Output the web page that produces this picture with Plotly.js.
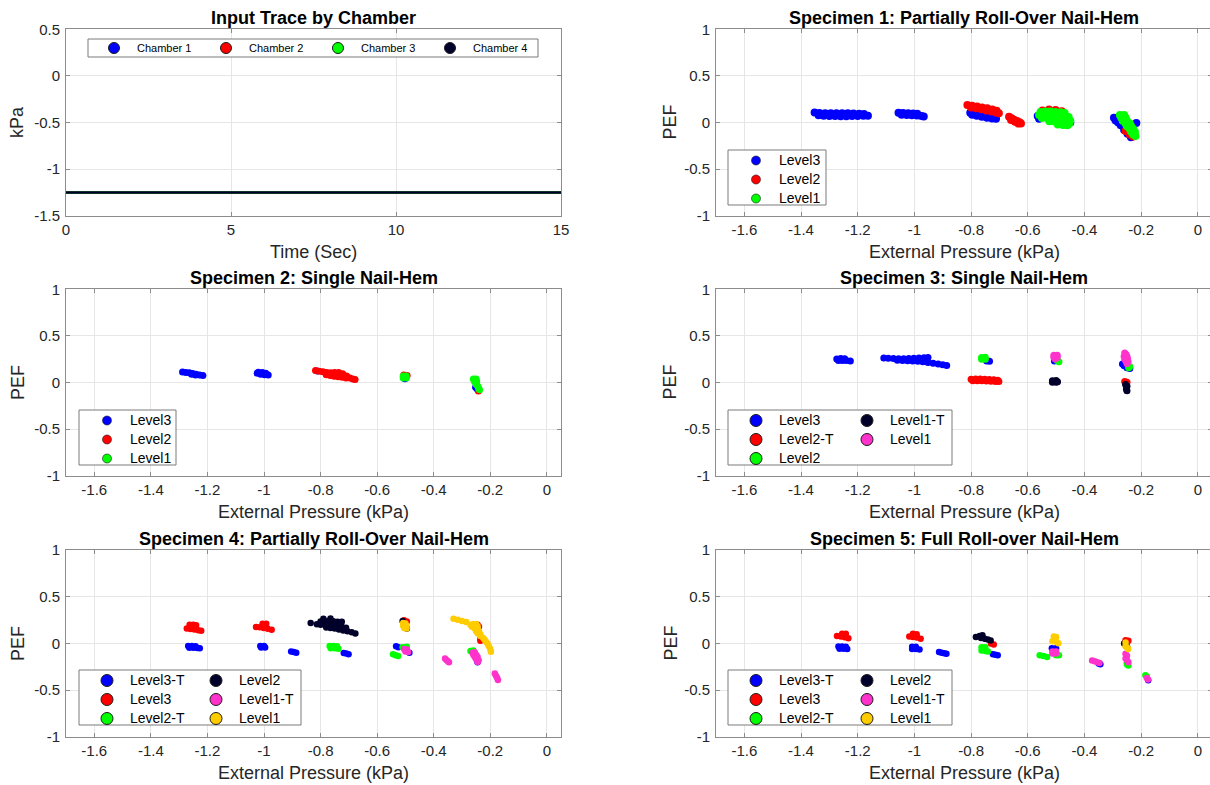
<!DOCTYPE html>
<html>
<head>
<meta charset="utf-8">
<script src="https://cdn.plot.ly/plotly-3.0.1.min.js"></script>
<style>
html,body{margin:0;padding:0;overflow:hidden;background:#fff}
#chart{width:1214px;height:785px}
</style>
</head>
<body>
<div id="chart"></div>
<script>
// ---------------- DATA ----------------
const PANEL_TITLES = ['Input Trace by Chamber','Specimen 1: Partially Roll-Over Nail-Hem','Specimen 2: Single Nail-Hem','Specimen 3: Single Nail-Hem','Specimen 4: Partially Roll-Over Nail-Hem','Specimen 5: Full Roll-over Nail-Hem'];
const X_LABEL_TIME = 'Time (Sec)';
const X_LABEL_P = 'External Pressure (kPa)';
const Y_LABEL_KPA = 'kPa';
const Y_LABEL_PEF = 'PEF';

const TIME_TICKS = [0, 5, 10, 15];
const TIME_TICKTEXT = ['0', '5', '10', '15'];
const KPA_TICKS = [-1.5, -1, -0.5, 0, 0.5];
const KPA_TICKTEXT = ['-1.5', '-1', '-0.5', '0', '0.5'];
const P_TICKS = [-1.6, -1.4, -1.2, -1, -0.8, -0.6, -0.4, -0.2, 0];
const P_TICKTEXT = ['-1.6', '-1.4', '-1.2', '-1', '-0.8', '-0.6', '-0.4', '-0.2', '0'];
const PEF_TICKS = [-1, -0.5, 0, 0.5, 1];
const PEF_TICKTEXT = ['-1', '-0.5', '0', '0.5', '1'];

const CHAMBER_NAMES = ['Chamber 1', 'Chamber 2', 'Chamber 3', 'Chamber 4'];
const TIME_SEC = [0, 15];
const CH1_KPA = [-1.25, -1.25];
const CH2_KPA = [-1.25, -1.25];
const CH3_KPA = [-1.25, -1.25];
const CH4_KPA = [-1.25, -1.25];

const NAMES_3 = ['Level3', 'Level2', 'Level1'];
const NAMES_S3 = ['Level3', 'Level2-T', 'Level2', 'Level1-T', 'Level1'];
const NAMES_6 = ['Level3-T', 'Level3', 'Level2-T', 'Level2', 'Level1-T', 'Level1'];

// Specimen 1 [external pressure, PEF]
const S1_LEVEL3 = [
 [-1.352,0.108],[-1.335,0.102],[-1.315,0.100],[-1.295,0.100],[-1.275,0.100],[-1.255,0.100],[-1.235,0.098],[-1.215,0.097],[-1.195,0.095],[-1.178,0.090],
 [-1.338,0.078],[-1.320,0.072],[-1.300,0.070],[-1.280,0.069],[-1.260,0.068],[-1.240,0.068],[-1.220,0.069],[-1.200,0.070],[-1.180,0.072],[-1.164,0.072],
 [-1.056,0.104],[-1.040,0.102],[-1.022,0.100],[-1.004,0.097],[-0.990,0.094],
 [-1.045,0.082],[-1.027,0.080],[-1.009,0.077],[-0.991,0.074],[-0.975,0.070],[-0.967,0.064],
 [-0.803,0.104],[-0.787,0.099],[-0.769,0.091],[-0.751,0.083],[-0.733,0.075],[-0.717,0.066],
 [-0.796,0.082],[-0.780,0.073],[-0.762,0.062],[-0.744,0.052],[-0.726,0.044],[-0.712,0.040],
 [-0.565,0.070],[-0.560,0.040],[-0.520,0.060],[-0.490,0.030],[-0.460,0.010],[-0.450,0.000],
 [-0.296,0.050],[-0.290,0.022],[-0.281,0.000],[-0.272,-0.030],[-0.260,-0.080],[-0.248,-0.120],[-0.236,-0.158],[-0.217,-0.005]
];
const S1_LEVEL2 = [
 [-0.813,0.188],[-0.797,0.181],[-0.779,0.172],[-0.761,0.162],[-0.743,0.152],[-0.725,0.140],[-0.710,0.126],
 [-0.800,0.162],[-0.782,0.152],[-0.764,0.141],[-0.746,0.130],[-0.728,0.118],[-0.712,0.106],[-0.702,0.100],
 [-0.666,0.062],[-0.657,0.045],[-0.648,0.030],[-0.638,0.015],[-0.629,0.002],[-0.624,-0.012],[-0.645,0.008],[-0.633,-0.010],[-0.659,0.028],
 [-0.548,0.130],[-0.525,0.140],[-0.502,0.135],[-0.480,0.120],
 [-0.270,0.060],[-0.255,-0.090],[-0.240,-0.130],[-0.228,-0.150]
];
const S1_LEVEL1 = [
 [-0.555,0.112],[-0.538,0.117],[-0.520,0.117],[-0.502,0.114],[-0.484,0.110],[-0.470,0.102],
 [-0.560,0.080],[-0.542,0.082],[-0.524,0.082],[-0.506,0.078],[-0.488,0.074],[-0.470,0.066],[-0.456,0.058],
 [-0.550,0.048],[-0.532,0.048],[-0.514,0.044],[-0.496,0.040],[-0.478,0.034],[-0.460,0.028],[-0.450,0.020],
 [-0.524,0.014],[-0.506,0.010],[-0.488,0.004],[-0.470,-0.004],[-0.454,-0.014],
 [-0.494,-0.022],[-0.476,-0.026],[-0.460,-0.030],
 [-0.275,0.080],[-0.260,0.080],[-0.270,0.050],[-0.255,0.050],[-0.265,0.020],[-0.250,0.020],[-0.255,-0.010],[-0.240,-0.010],
 [-0.250,-0.040],[-0.235,-0.040],[-0.240,-0.070],[-0.228,-0.070],[-0.235,-0.100],[-0.222,-0.100],[-0.228,-0.130],[-0.220,-0.145]
];

// Specimen 2
const S2_LEVEL3 = [
 [-1.288,0.113],[-1.276,0.109],[-1.264,0.104],[-1.252,0.097],[-1.240,0.089],[-1.228,0.081],[-1.216,0.075],[-1.256,0.090],[-1.242,0.082],
 [-1.020,0.110],[-1.006,0.108],[-0.994,0.101],[-1.012,0.090],[-0.998,0.084],[-0.985,0.080],[-1.024,0.100],
 [-0.812,0.125],[-0.752,0.100],
 [-0.502,0.040],[-0.246,-0.070],[-0.252,-0.050]
];
const S2_LEVEL2 = [
 [-0.818,0.128],[-0.805,0.121],[-0.792,0.115],[-0.778,0.108],[-0.764,0.104],[-0.750,0.108],[-0.736,0.108],[-0.722,0.094],[-0.708,0.070],[-0.696,0.050],[-0.686,0.038],[-0.678,0.032],
 [-0.780,0.084],[-0.766,0.075],[-0.752,0.068],[-0.738,0.062],[-0.724,0.056],[-0.710,0.048],
 [-0.506,0.082],[-0.494,0.076],[-0.242,-0.090]
];
const S2_LEVEL1 = [
 [-0.508,0.070],[-0.497,0.070],[-0.508,0.050],[-0.497,0.050],
 [-0.260,0.038],[-0.250,0.038],[-0.256,0.012],[-0.248,0.012],[-0.250,-0.018],[-0.244,-0.040],[-0.241,-0.062],[-0.238,-0.078]
];

// Specimen 3
const S3_LEVEL3 = [
 [-1.274,0.252],[-1.260,0.258],[-1.246,0.254],[-1.268,0.236],[-1.254,0.236],[-1.240,0.236],[-1.226,0.232],
 [-1.108,0.262],[-1.092,0.260],[-1.074,0.258],[-1.056,0.256],[-1.038,0.256],[-1.020,0.258],[-1.002,0.260],[-0.984,0.262],[-0.966,0.265],[-0.952,0.268],
 [-1.060,0.238],[-1.042,0.237],[-1.024,0.235],[-1.006,0.232],[-0.988,0.228],[-0.970,0.222],[-0.952,0.214],[-0.934,0.206],[-0.916,0.198],[-0.900,0.190],[-0.886,0.182],
 [-0.745,0.232],[-0.735,0.228],[-0.506,0.232],[-0.266,0.200],[-0.260,0.180],[-0.250,0.158],[-0.240,0.150]
];
const S3_LEVEL2T = [
 [-0.800,0.036],[-0.784,0.038],[-0.768,0.038],[-0.752,0.036],[-0.736,0.034],[-0.720,0.030],[-0.706,0.024],
 [-0.794,0.020],[-0.778,0.020],[-0.762,0.018],[-0.746,0.017],[-0.730,0.014],[-0.714,0.012],[-0.702,0.010],
 [-0.258,0.010],[-0.250,0.004]
];
const S3_LEVEL2 = [
 [-0.763,0.268],[-0.750,0.272],[-0.763,0.250],[-0.750,0.250],
 [-0.490,0.222],[-0.496,0.236],[-0.244,0.158],[-0.240,0.172]
];
const S3_LEVEL1T = [
 [-0.513,0.020],[-0.500,0.022],[-0.513,0.004],[-0.500,0.002],[-0.495,0.008],
 [-0.255,-0.020],[-0.250,-0.040],[-0.252,-0.070],[-0.250,-0.088]
];
const S3_LEVEL1 = [
 [-0.508,0.292],[-0.496,0.292],[-0.508,0.268],[-0.496,0.268],[-0.503,0.252],
 [-0.258,0.318],[-0.253,0.300],[-0.260,0.280],[-0.250,0.280],[-0.258,0.255],[-0.248,0.255],[-0.254,0.232],[-0.246,0.222],[-0.250,0.204]
];

// Specimen 4
const S4_LEVEL3T = [
 [-1.268,-0.028],[-1.255,-0.026],[-1.242,-0.030],[-1.264,-0.045],[-1.250,-0.045],[-1.236,-0.048],[-1.227,-0.052],
 [-1.013,-0.026],[-1.000,-0.026],[-1.010,-0.044],[-0.996,-0.044],
 [-0.904,-0.086],[-0.895,-0.092],[-0.886,-0.099],
 [-0.718,-0.101],[-0.709,-0.108],[-0.701,-0.114],
 [-0.533,-0.030],[-0.525,-0.040],[-0.486,-0.100],
 [-0.260,-0.090],[-0.245,-0.200]
];
const S4_LEVEL3 = [
 [-1.263,0.200],[-1.250,0.200],[-1.240,0.195],
 [-1.273,0.160],[-1.260,0.155],[-1.246,0.150],[-1.232,0.142],[-1.222,0.136],
 [-1.005,0.213],[-0.992,0.213],
 [-1.028,0.178],[-1.015,0.174],[-1.001,0.166],[-0.987,0.157],[-0.973,0.148],
 [-0.765,0.195],[-0.750,0.200],
 [-0.505,0.250],[-0.495,0.235],
 [-0.245,0.200],[-0.240,0.180],[-0.235,0.050],[-0.235,0.030]
];
const S4_LEVEL2T = [
 [-0.768,-0.026],[-0.755,-0.026],[-0.742,-0.030],[-0.764,-0.050],[-0.750,-0.050],[-0.737,-0.055],
 [-0.544,-0.116],[-0.535,-0.125],[-0.526,-0.134],
 [-0.510,-0.040],[-0.495,-0.035],
 [-0.270,-0.080],[-0.260,-0.075]
];
const S4_LEVEL2 = [
 [-0.835,0.220],[-0.790,0.265],[-0.765,0.268],
 [-0.800,0.235],[-0.785,0.242],[-0.770,0.242],[-0.755,0.238],[-0.740,0.234],[-0.725,0.232],
 [-0.813,0.205],[-0.800,0.200],[-0.785,0.200],[-0.770,0.200],[-0.755,0.200],[-0.740,0.190],[-0.725,0.180],[-0.710,0.170],
 [-0.780,0.172],[-0.765,0.166],[-0.750,0.160],[-0.735,0.150],[-0.720,0.140],[-0.705,0.130],[-0.690,0.120],[-0.677,0.108],
 [-0.510,0.240],[-0.495,0.160]
];
const S4_LEVEL1T = [
 [-0.505,-0.060],[-0.495,-0.065],[-0.500,-0.085],[-0.490,-0.090],
 [-0.360,-0.162],[-0.355,-0.176],[-0.350,-0.190],[-0.346,-0.200],
 [-0.263,-0.100],[-0.255,-0.095],[-0.260,-0.120],[-0.250,-0.120],[-0.255,-0.145],[-0.245,-0.145],[-0.250,-0.170],[-0.241,-0.180],[-0.245,-0.198],
 [-0.184,-0.322],[-0.180,-0.345],[-0.176,-0.368],[-0.173,-0.392]
];
const S4_LEVEL1 = [
 [-0.508,0.220],[-0.500,0.215],[-0.508,0.190],[-0.496,0.190],[-0.504,0.166],[-0.496,0.162],
 [-0.330,0.265],[-0.315,0.255],[-0.300,0.240],[-0.285,0.230],[-0.270,0.200],[-0.265,0.180],
 [-0.260,0.210],[-0.250,0.210],[-0.255,0.185],[-0.245,0.185],[-0.255,0.160],[-0.245,0.160],[-0.250,0.135],[-0.240,0.130],
 [-0.245,0.110],[-0.235,0.100],[-0.235,0.080],[-0.225,0.060],[-0.220,0.040],[-0.215,0.020],[-0.210,0.000],[-0.205,-0.030],[-0.200,-0.060],[-0.198,-0.088]
];

// Specimen 5
const S5_LEVEL3T = [
 [-1.268,-0.032],[-1.255,-0.032],[-1.242,-0.036],[-1.264,-0.055],[-1.250,-0.055],[-1.237,-0.060],
 [-1.008,-0.036],[-0.995,-0.036],[-1.008,-0.060],[-0.995,-0.060],[-0.982,-0.064],
 [-0.913,-0.091],[-0.904,-0.098],[-0.895,-0.104],[-0.887,-0.110],
 [-0.723,-0.116],[-0.714,-0.120],[-0.706,-0.125],
 [-0.515,-0.050],[-0.500,-0.050],
 [-0.350,-0.215],[-0.344,-0.222],
 [-0.250,-0.210],[-0.175,-0.395]
];
const S5_LEVEL3 = [
 [-1.255,0.105],[-1.242,0.105],
 [-1.273,0.080],[-1.260,0.075],[-1.246,0.066],[-1.233,0.057],
 [-1.005,0.105],[-0.992,0.100],
 [-1.018,0.075],[-1.005,0.070],[-0.991,0.064],[-0.978,0.052],
 [-0.730,0.000],[-0.720,-0.010],
 [-0.255,0.035],[-0.245,0.030]
];
const S5_LEVEL2T = [
 [-0.763,-0.040],[-0.750,-0.040],[-0.763,-0.075],[-0.750,-0.080],[-0.741,-0.085],
 [-0.558,-0.126],[-0.545,-0.135],[-0.532,-0.144],
 [-0.500,-0.125],[-0.490,-0.125],
 [-0.250,-0.225],[-0.245,-0.235],
 [-0.185,-0.340],[-0.180,-0.355]
];
const S5_LEVEL2 = [
 [-0.783,0.070],[-0.770,0.080],[-0.760,0.088],[-0.765,0.060],[-0.752,0.052],[-0.741,0.042],[-0.731,0.032],
 [-0.260,0.000],[-0.250,-0.030]
];
const S5_LEVEL1T = [
 [-0.513,-0.086],[-0.500,-0.086],[-0.513,-0.108],[-0.500,-0.108],
 [-0.373,-0.181],[-0.364,-0.190],[-0.355,-0.200],[-0.347,-0.209],
 [-0.255,-0.110],[-0.250,-0.130],[-0.255,-0.160],[-0.250,-0.180],[-0.245,-0.200],
 [-0.180,-0.370],[-0.176,-0.385]
];
const S5_LEVEL1 = [
 [-0.508,0.075],[-0.500,0.070],
 [-0.513,0.025],[-0.500,0.020],[-0.492,0.002],
 [-0.255,0.010],[-0.255,-0.030],[-0.250,-0.040],[-0.246,-0.060]
];

// ---------------- STYLE / LAYOUT ----------------
const W = 1214, H = 785;
const px = v => v / W;
const py = v => 1 - v / H;
const FONT = 'Liberation Sans, Arial, Helvetica, sans-serif';
const BLUE = '#0000ff', RED = '#ff0000', GREEN = '#00ff00', NAVY = '#00002a', PINK = '#ff33cc', YELLOW = '#ffcc00';

const COLS = [[66, 561], [716, 1212]];
const ROWS = [[29.3, 215.7], [289.3, 475.8], [550.2, 736.8]];

function xy(arr) { return { x: arr.map(p => p[0]), y: arr.map(p => p[1]) }; }

const traces = [];
function addData(arr, color, size, n) {
  const d = xy(arr);
  traces.push({ type: 'scatter', mode: 'markers', x: d.x, y: d.y, xaxis: 'x' + n, yaxis: 'y' + n,
    showlegend: false, hoverinfo: 'skip', marker: { color: color, size: size, line: { width: 0 } } });
}
function addLegend(name, color, size, lw, n, legendId, spanPx) {
  traces.push({ type: 'scatter', mode: 'markers', x: [null], y: [null], xaxis: 'x' + n, yaxis: 'y' + n,
    name: spanPx ? '<span style="font-size:' + spanPx + 'px">' + name + '</span>' : name,
    legend: legendId, showlegend: true, hoverinfo: 'skip',
    marker: { color: color, size: size, line: { color: '#1a1a1a', width: lw } } });
}

// Panel 1: input traces
const chamberY = [CH1_KPA, CH2_KPA, CH3_KPA, CH4_KPA];
const chamberC = [BLUE, RED, GREEN, NAVY];
chamberY.forEach((yv, i) => {
  traces.push({ type: 'scatter', mode: 'lines', x: TIME_SEC, y: yv, xaxis: 'x', yaxis: 'y',
    showlegend: false, hoverinfo: 'skip', line: { color: chamberC[i], width: 2.5 } });
});
CHAMBER_NAMES.forEach((nm, i) => addLegend(nm, chamberC[i], 11, 1, '', 'legend', 0));

// Panel 2: Specimen 1
addData(S1_LEVEL3, BLUE, 8, 2); addData(S1_LEVEL2, RED, 8, 2); addData(S1_LEVEL1, GREEN, 8, 2);
[BLUE, RED, GREEN].forEach((c, i) => addLegend(NAMES_3[i], c, 9, 0.6, 2, 'legend2', 14));

// Panel 3: Specimen 2
addData(S2_LEVEL3, BLUE, 7, 3); addData(S2_LEVEL2, RED, 7, 3); addData(S2_LEVEL1, GREEN, 7, 3);
[BLUE, RED, GREEN].forEach((c, i) => addLegend(NAMES_3[i], c, 9, 0.6, 3, 'legend3', 14));

// Panel 4: Specimen 3
const s3Data = [S3_LEVEL3, S3_LEVEL2T, S3_LEVEL2, S3_LEVEL1T, S3_LEVEL1];
const s3Col = [BLUE, RED, GREEN, NAVY, PINK];
s3Data.forEach((d, i) => addData(d, s3Col[i], 7, 4));
s3Col.forEach((c, i) => addLegend(NAMES_S3[i], c, 12, 1, 4, i < 3 ? 'legend4' : 'legend5', 14));

// Panel 5: Specimen 4
const s4Data = [S4_LEVEL3T, S4_LEVEL3, S4_LEVEL2T, S4_LEVEL2, S4_LEVEL1T, S4_LEVEL1];
const s6Col = [BLUE, RED, GREEN, NAVY, PINK, YELLOW];
s4Data.forEach((d, i) => addData(d, s6Col[i], 6.5, 5));
s6Col.forEach((c, i) => addLegend(NAMES_6[i], c, 12, 1, 5, i < 3 ? 'legend6' : 'legend7', 14));

// Panel 6: Specimen 5
const s5Data = [S5_LEVEL3T, S5_LEVEL3, S5_LEVEL2T, S5_LEVEL2, S5_LEVEL1T, S5_LEVEL1];
s5Data.forEach((d, i) => addData(d, s6Col[i], 6.5, 6));
s6Col.forEach((c, i) => addLegend(NAMES_6[i], c, 12, 1, 6, i < 3 ? 'legend8' : 'legend9', 14));

function axis(extra) {
  return Object.assign({
    showline: true, linecolor: '#8c8c8c', linewidth: 1, mirror: 'ticks',
    ticks: 'inside', ticklen: 4, tickwidth: 1, tickcolor: '#8c8c8c',
    showgrid: true, gridcolor: '#e6e6e6', gridwidth: 1, zeroline: false,
    tickfont: { family: FONT, size: 15, color: '#262626' },
    tickmode: 'array', fixedrange: true, automargin: false
  }, extra);
}

const layout = {
  width: W, height: H,
  margin: { l: 0, r: 0, t: 0, b: 0, pad: 0, autoexpand: false },
  paper_bgcolor: '#fff', plot_bgcolor: '#fff',
  font: { family: FONT, color: '#262626' },
  showlegend: true,
  shapes: [], annotations: []
};

const panels = [
  { n: '', col: 0, row: 0, xr: [0, 15], xt: TIME_TICKS, xtt: TIME_TICKTEXT, yr: [-1.5, 0.5], yt: KPA_TICKS, ytt: KPA_TICKTEXT, xl: X_LABEL_TIME, yl: Y_LABEL_KPA },
  { n: '2', col: 1, row: 0 }, { n: '3', col: 0, row: 1 }, { n: '4', col: 1, row: 1 },
  { n: '5', col: 0, row: 2 }, { n: '6', col: 1, row: 2 }
];
panels.forEach((p, i) => {
  const c = COLS[p.col], r = ROWS[p.row];
  layout['xaxis' + p.n] = axis({ domain: [px(c[0]), px(c[1])], anchor: 'y' + p.n,
    range: p.xr || [-1.7, 0.05], tickvals: p.xt || P_TICKS, ticktext: p.xtt || P_TICKTEXT });
  layout['yaxis' + p.n] = axis({ domain: [py(r[1]), py(r[0])], anchor: 'x' + p.n,
    range: p.yr || [-1, 1], tickvals: p.yt || PEF_TICKS, ticktext: p.ytt || PEF_TICKTEXT, ticklabelstandoff: 2 });
  const cx = (c[0] + c[1]) / 2;
  layout.annotations.push({ text: '<b>' + PANEL_TITLES[i] + '</b>', xref: 'paper', yref: 'paper',
    x: px(cx), y: py(r[0] - 11.5), xanchor: 'center', yanchor: 'middle', showarrow: false,
    font: { family: FONT, size: 18, color: '#000' } });
  layout.annotations.push({ text: p.xl || X_LABEL_P, xref: 'paper', yref: 'paper',
    x: px(cx), y: py(r[1] + 36.5), xanchor: 'center', yanchor: 'middle', showarrow: false,
    font: { family: FONT, size: 18, color: '#262626' } });
  layout.annotations.push({ text: p.yl || Y_LABEL_PEF, xref: 'paper', yref: 'paper', textangle: -90,
    x: px(c[0] - (p.col === 0 ? 48.5 : 46)), y: py((r[0] + r[1]) / 2), xanchor: 'center', yanchor: 'middle', showarrow: false,
    font: { family: FONT, size: 18, color: '#262626' } });
});

// legend boxes
const BOXES = [[88, 39, 538, 57], [728, 150, 826, 205], [79, 410, 176, 465], [728, 410, 952, 465], [79, 670, 301, 725], [728, 670, 952, 725]];
BOXES.forEach(b => layout.shapes.push({ type: 'rect', xref: 'paper', yref: 'paper', layer: 'above',
  x0: px(b[0]), x1: px(b[2]), y0: py(b[3]), y1: py(b[1]), line: { color: '#7a7a7a', width: 1 }, fillcolor: '#ffffff' }));

function leg(xPx, yPx, extra) {
  return Object.assign({ x: px(xPx), y: py(yPx), xref: 'paper', yref: 'paper', xanchor: 'left', yanchor: 'top',
    bgcolor: 'rgba(0,0,0,0)', borderwidth: 0, itemwidth: 36, tracegroupgap: 0, orientation: 'v',
    font: { family: FONT, size: 12, color: '#000' }, itemclick: false, itemdoubleclick: false }, extra || {});
}
layout.legend = leg(91, 33.5, { orientation: 'h', entrywidth: 61, entrywidthmode: 'pixels', font: { family: FONT, size: 11, color: '#000' } });
layout.legend2 = leg(733, 146);
layout.legend3 = leg(84, 406);
layout.legend4 = leg(733, 406);
layout.legend5 = leg(844, 406);
layout.legend6 = leg(84, 666);
layout.legend7 = leg(193, 666);
layout.legend8 = leg(733, 666);
layout.legend9 = leg(844, 666);

Plotly.newPlot('chart', traces, layout, { displayModeBar: false, staticPlot: true });
</script>
</body>
</html>
